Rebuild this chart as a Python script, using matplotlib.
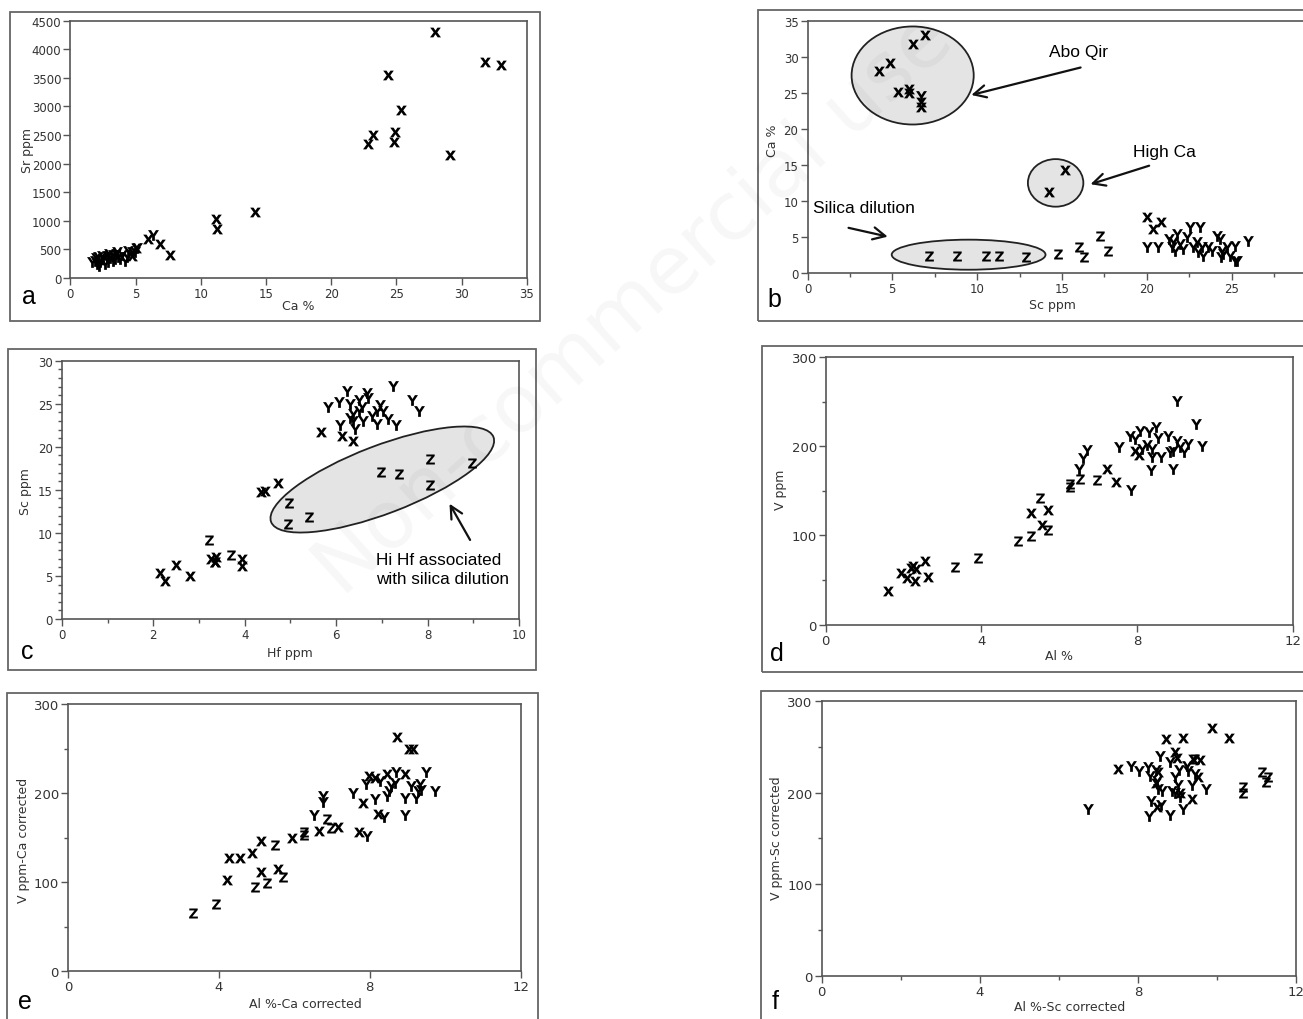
import matplotlib
matplotlib.use("Agg")
import matplotlib.pyplot as plt
from matplotlib.patches import Rectangle, Ellipse
from matplotlib.ticker import MultipleLocator
from matplotlib.transforms import Affine2D

# ---- panel a: Ca % vs Sr ppm ----
a_x_ca = [27.96, 31.77, 33.03, 24.38, 25.34, 24.90, 23.17, 22.84, 24.84, 29.11,
          14.16, 11.17, 11.28, 7.67, 6.87, 5.97, 2.3, 3.5, 5.0, 4.7]
a_x_sr = [4307, 3783, 3725, 3556, 2938, 2559, 2500, 2349, 2384, 2151,
          1148, 1032, 857, 408, 595, 682, 320, 420, 520, 380]
a_y_ca = [6.36, 5.08, 4.96, 4.70, 4.44, 4.32, 3.93, 3.55, 3.24, 3.04, 2.78, 2.52, 2.27,
          2.14, 1.89, 1.63, 2.22, 2.65, 3.29, 3.80, 4.19, 2.98, 3.67, 2.40, 1.96, 2.05, 2.9, 3.4]
a_y_sr = [755, 518, 448, 459, 476, 361, 401, 448, 401, 344, 389, 331, 284,
          361, 302, 273, 214, 244, 302, 331, 302, 419, 361, 389, 344, 250, 280, 330]

# ---- panel b: Sc ppm vs Ca % ----
b_x_sc = [4.20, 4.87, 5.35, 5.97, 5.97, 6.24, 6.95, 6.70, 6.70, 14.25, 15.16, 20.0, 20.39, 20.84]
b_x_ca = [28.06, 29.2, 25.06, 25.5, 24.97, 31.76, 33.06, 22.98, 23.67, 11.28, 14.29, 7.7, 6.11, 7.03]
b_y_sc = [6.70, 20.0, 20.65, 21.33, 21.47, 21.77, 21.67, 21.96, 22.36, 22.55, 23.14, 22.94, 23.24,
          23.34, 22.75, 23.63, 23.83, 24.13, 24.32, 24.42, 24.72, 24.91, 25.21, 25.30, 24.52,
          25.99, 21.57, 22.16, 23.04, 25.2, 24.4]
b_y_ca = [24.5, 3.57, 3.57, 4.72, 3.57, 5.42, 3.1, 4.03, 4.95, 6.34, 6.43, 4.26, 3.57,
          2.41, 3.57, 3.57, 3.1, 5.19, 4.72, 3.1, 3.57, 2.41, 3.8, 1.73, 2.64,
          4.49, 4.26, 3.33, 2.87, 1.7, 2.2]
b_z_sc = [7.15, 8.84, 10.50, 11.31, 12.87, 14.75, 16.01, 16.31, 17.26, 17.72]
b_z_ca = [2.31, 2.31, 2.31, 2.31, 2.17, 2.64, 3.56, 2.27, 5.18, 3.0]

# ---- panel c: Hf ppm vs Sc ppm ----
c_x_hf = [2.15, 2.26, 2.49, 2.80, 3.26, 3.34, 3.38, 3.36, 3.95, 3.94, 4.35, 4.45, 4.73,
          5.68, 6.12, 6.38]
c_x_sc = [5.4, 4.37, 6.27, 5.03, 6.97, 6.66, 7.16, 6.58, 6.97, 6.19, 14.8, 14.9, 15.8,
          21.7, 21.3, 20.7]
c_y_hf = [5.83, 6.07, 6.23, 6.30, 6.38, 6.49, 6.56, 6.67, 6.70, 6.38, 6.41, 6.08, 6.59, 6.78,
          6.89, 6.96, 7.03, 7.14, 7.30, 7.24, 7.65, 7.82, 6.30, 6.49, 6.89]
c_y_sc = [24.6, 25.2, 26.5, 25.0, 23.8, 25.4, 24.6, 26.3, 25.7, 23.0, 22.1, 22.5, 23.0, 23.6,
          22.6, 24.8, 24.2, 23.2, 22.5, 27.1, 25.4, 24.1, 23.4, 24.2, 24.2]
c_z_hf = [3.23, 3.69, 4.98, 4.95, 5.41, 6.99, 7.37, 8.05, 8.05, 8.98]
c_z_sc = [9.2, 7.43, 13.5, 11.0, 11.9, 17.1, 16.8, 18.6, 15.6, 18.1]

# ---- panel d: Al % vs V ppm ----
d_x_al = [1.59, 1.93, 2.09, 2.18, 2.24, 2.29, 2.31, 2.56, 2.63, 5.28, 5.56, 5.70, 7.23, 7.46,
          7.95, 8.04]
d_x_v = [38, 58, 52, 63, 66, 49, 62, 71, 54, 125, 112, 129, 174, 160, 195, 190]
d_y_al = [6.50, 6.62, 6.71, 7.55, 7.85, 7.83, 7.94, 8.07, 8.30, 8.25, 8.39, 8.48, 8.54, 8.62,
          8.36, 8.80, 8.84, 8.92, 9.02, 9.02, 9.11, 9.21, 9.32, 9.52, 9.66, 8.39, 8.12, 8.93]
d_y_v = [175, 187, 196, 199, 151, 212, 208, 217, 216, 201, 197, 221, 209, 188,
         173, 212, 193, 175, 251, 206, 199, 193, 203, 225, 200, 188, 197, 195]
d_z_al = [3.31, 3.92, 4.94, 5.27, 5.50, 5.71, 6.28, 6.29, 6.53, 6.98]
d_z_v = [65, 75, 94, 99, 142, 106, 154, 158, 163, 162]

# ---- panel e: Al %-Ca corrected vs V ppm-Ca corrected ----
e_x_al = [4.22, 4.28, 4.57, 4.88, 5.12, 5.12, 5.58, 5.93, 6.65, 7.16, 7.71, 7.81, 8.23,
          8.73, 9.04, 9.15, 7.99, 8.14, 8.45, 8.94]
e_x_v = [102, 127, 127, 133, 146, 112, 115, 150, 157, 162, 156, 189, 177,
         263, 250, 250, 219, 217, 221, 221]
e_y_al = [6.53, 6.75, 6.75, 7.55, 7.93, 7.90, 8.14, 8.28, 8.39, 8.45, 8.56, 8.66, 8.70, 8.94,
          8.94, 9.08, 9.23, 9.32, 9.37, 9.48, 9.73, 9.27, 8.52]
e_y_v = [175, 197, 190, 200, 152, 210, 193, 214, 173, 197, 208, 211, 224, 195,
         175, 208, 195, 210, 203, 224, 202, 202, 202]
e_z_al = [3.31, 3.93, 4.95, 5.28, 5.50, 5.71, 6.26, 6.26, 6.86, 6.97]
e_z_v = [65, 75, 95, 99, 142, 106, 156, 153, 171, 161]

# ---- panel f: Al %-Sc corrected vs V ppm-Sc corrected ----
f_x_al = [7.51, 8.71, 9.15, 9.88, 10.31, 8.94, 9.0, 9.40, 9.57, 9.53, 8.5, 8.49, 9.36, 8.47, 9.07]
f_x_v = [226, 258, 260, 270, 260, 244, 238, 237, 236, 217, 222, 184, 193, 210, 200]
f_y_al = [6.75, 7.82, 8.04, 8.26, 8.31, 8.56, 8.46, 8.48, 8.52, 8.60, 8.33, 8.29, 8.58, 8.81,
          8.94, 9.02, 9.04, 8.86, 8.94, 9.07, 8.81, 9.15, 9.72, 9.24, 9.28, 9.45, 9.36]
f_y_v = [182, 229, 224, 228, 218, 240, 225, 213, 204, 202, 191, 174, 186, 233,
         217, 208, 225, 202, 199, 195, 175, 182, 204, 229, 224, 220, 208]
f_z_al = [9.45, 10.67, 10.67, 11.13, 11.28, 11.24]
f_z_v = [237, 206, 200, 222, 217, 211]

W, H = 1303, 1020
fig = plt.figure(figsize=(W / 100, H / 100), dpi=100)
narrow = ['Liberation Sans Narrow', 'Liberation Sans', 'DejaVu Sans']

MX, MY, MZ = r'$\mathbf{x}$', r'$\mathbf{Y}$', r'$\mathbf{Z}$'


def px_axes(l, t, r, b):
    return fig.add_axes([l / W, 1 - b / H, (r - l) / W, (b - t) / H])


def frame(l, t, r, b):
    fig.patches.append(Rectangle((l / W, 1 - b / H), (r - l) / W, (b - t) / H,
                                 transform=fig.transFigure, fill=False,
                                 edgecolor='#666666', lw=1.3))


def style(ax, xlim, ylim, xmaj, ymaj, xmin, ymin, xlabel, ylabel, xl, yl, fs=8.5):
    ax.set_xlim(*xlim)
    ax.set_ylim(*ylim)
    ax.xaxis.set_major_locator(MultipleLocator(xmaj))
    ax.yaxis.set_major_locator(MultipleLocator(ymaj))
    if xmin:
        ax.xaxis.set_minor_locator(MultipleLocator(xmin))
    if ymin:
        ax.yaxis.set_minor_locator(MultipleLocator(ymin))
    for s in ax.spines.values():
        s.set_color('#555555')
        s.set_linewidth(1.2)
    ax.tick_params(which='both', direction='out', color='#555555', width=1,
                   labelsize=fs, labelcolor='#333333', pad=1.5)
    ax.tick_params(which='major', length=5)
    ax.tick_params(which='minor', length=3)
    ax.set_xlabel(xlabel, fontsize=9, color='#333333')
    ax.set_ylabel(ylabel, fontsize=9, color='#333333')
    ax.xaxis.set_label_coords(*xl)
    ax.yaxis.set_label_coords(*yl)
    ax.xaxis.label.set_va('center')
    ax.yaxis.label.set_va('center')


def pts(ax, x, y, m, s=62):
    ax.scatter(x, y, marker=m, s=s, c='black', linewidths=0, zorder=5)


def letter(x, y, t):
    fig.text(x / W, 1 - y / H, t, fontsize=18, family=narrow, ha='center', va='center')


# panel a
frame(10, 12.7, 540, 321.7)
ax = px_axes(70.4, 21.7, 526.8, 279)
style(ax, (0, 35), (0, 4500), 5, 500, None, None, 'Ca %', 'Sr ppm',
      (0.499, -0.108), (-0.095, 0.5))
pts(ax, a_y_ca, a_y_sr, MY)
pts(ax, a_x_ca, a_x_sr, MX)
letter(29, 297, 'a')

# panel b
frame(757.8, 11, 1330, 321.7)
ax = px_axes(807.5, 21.7, 1316.3, 274)
style(ax, (0, 30), (0, 35), 5, 5, 2.5, None, 'Sc ppm', 'Ca %',
      (0.482, -0.126), (-0.068, 0.53))
ax.add_patch(Ellipse((6.2, 27.4), 7.2, 13.6, facecolor='#e4e4e4', edgecolor='#222222', lw=1.3, zorder=2))
ax.add_patch(Ellipse((14.63, 12.5), 3.27, 6.6, facecolor='#e4e4e4', edgecolor='#222222', lw=1.3, zorder=2))
ax.add_patch(Ellipse((9.5, 2.54), 9.07, 4.17, facecolor='#e4e4e4', edgecolor='#222222', lw=1.3, zorder=2))
arrow = dict(arrowstyle='->', lw=1.6, color='#111111', mutation_scale=22)
ax.annotate('', xy=(9.5, 24.6), xytext=(16.26, 28.6), arrowprops=arrow)
ax.annotate('', xy=(16.53, 12.2), xytext=(20.3, 15.0), arrowprops=arrow)
ax.annotate('', xy=(4.89, 4.96), xytext=(2.26, 6.35), arrowprops=arrow)
ax.text(16.0, 30.7, 'Abo Qir', fontsize=12.5, family=narrow, ha='center', va='center')
ax.text(21.05, 16.85, 'High Ca', fontsize=12.5, family=narrow, ha='center', va='center')
ax.text(3.31, 9.1, 'Silica dilution', fontsize=12.5, family=narrow, ha='center', va='center')
pts(ax, b_y_sc, b_y_ca, MY)
pts(ax, b_z_sc, b_z_ca, MZ, 52)
pts(ax, b_x_sc, b_x_ca, MX)
letter(774, 300, 'b')

# panel c
frame(7.9, 350, 535.7, 671)
ax = px_axes(61.8, 361.7, 519, 620)
style(ax, (0, 10), (0, 30), 2, 5, 1, 1, 'Hf ppm', 'Sc ppm',
      (0.498, -0.129), (-0.08, 0.497))
ppx, ppy = (519 - 61.8) / 10, (620 - 361.7) / 30
trans = Affine2D().scale(1 / ppx, 1 / ppy) + ax.transData
ax.add_patch(Ellipse((7.01 * ppx, 16.2 * ppy), 238, 68, angle=20.9, transform=trans,
                     facecolor='#e4e4e4', edgecolor='#222222', lw=1.3, zorder=2))
ax.annotate('', xy=(8.45, 13.67), xytext=(8.96, 8.9), arrowprops=arrow)
ax.text(6.87, 5.85, 'Hi Hf associated\nwith silica dilution', fontsize=12.3, family=narrow,
        ha='left', va='center', linespacing=1.35)
pts(ax, c_y_hf, c_y_sc, MY)
pts(ax, c_z_hf, c_z_sc, MZ, 52)
pts(ax, c_x_hf, c_x_sc, MX)
letter(27, 652, 'c')

# panel d
frame(761.6, 347.3, 1330, 673.3)
ax = px_axes(825.8, 358, 1292.6, 625.7)
style(ax, (0, 12), (0, 300), 4, 100, None, 50, 'Al %', 'V ppm',
      (0.499, -0.116), (-0.098, 0.507), fs=9.5)
pts(ax, d_y_al, d_y_v, MY)
pts(ax, d_z_al, d_z_v, MZ, 52)
pts(ax, d_x_al, d_x_v, MX)
letter(777, 654, 'd')

# panel e
frame(7, 694.3, 537.5, 1040)
ax = px_axes(67.9, 705, 520.7, 972.3)
style(ax, (0, 12), (0, 300), 4, 100, None, 50, 'Al %-Ca corrected', 'V ppm-Ca corrected',
      (0.524, -0.122), (-0.099, 0.495), fs=9.5)
pts(ax, e_y_al, e_y_v, MY)
pts(ax, e_z_al, e_z_v, MZ, 52)
pts(ax, e_x_al, e_x_v, MX)
letter(25, 1002, 'e')

# panel f
frame(760.6, 691.7, 1330, 1040)
ax = px_axes(821.6, 702, 1296, 976.7)
style(ax, (0, 12), (0, 300), 4, 100, 2, 50, 'Al %-Sc corrected', 'V ppm-Sc corrected',
      (0.522, -0.113), (-0.095, 0.505), fs=9.5)
pts(ax, f_y_al, f_y_v, MY)
pts(ax, f_z_al, f_z_v, MZ, 52)
pts(ax, f_x_al, f_x_v, MX)
letter(775, 1002, 'f')

# faint watermark
fig.text(635 / W, 1 - 305 / H, 'Non-commercial use', fontsize=58, rotation=42,
         color='black', alpha=0.035, ha='center', va='center')

fig.savefig('out.png', dpi=100)
